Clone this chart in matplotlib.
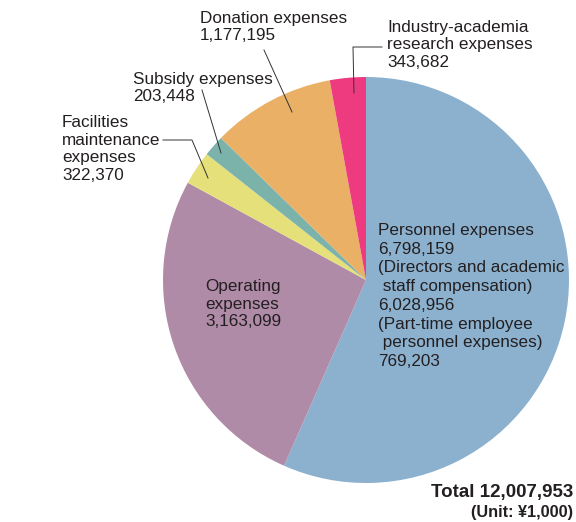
import matplotlib
matplotlib.use("Agg")
import matplotlib.pyplot as plt

plt.rcParams['font.family'] = ['Liberation Sans', 'DejaVu Sans']

categories = ["Personnel expenses", "Operating expenses", "Facilities maintenance expenses",
              "Subsidy expenses", "Donation expenses", "Industry-academia research expenses"]
values = [6798159, 3163099, 322370, 203448, 1177195, 343682]
colors = ["#8CB1CF", "#B08BA8", "#E5E07A", "#7BB3AA", "#E9B066", "#EE3B80"]

labels = {
    "personnel": "Personnel expenses\n6,798,159\n(Directors and academic\n staff compensation)\n6,028,956\n(Part-time employee\n personnel expenses)\n769,203",
    "operating": "Operating\nexpenses\n3,163,099",
    "facilities": "Facilities\nmaintenance\nexpenses\n322,370",
    "subsidy": "Subsidy expenses\n203,448",
    "donation": "Donation expenses\n1,177,195",
    "industry": "Industry-academia\nresearch expenses\n343,682",
}
total_text = "Total 12,007,953"
unit_text = "(Unit: ¥1,000)"

W, H = 576, 522
fig = plt.figure(figsize=(W / 100, H / 100), dpi=100)
ax = fig.add_axes([0, 0, 1, 1])

def Y(py):
    return H - py

ax.pie(values, colors=colors, startangle=90, counterclock=False,
       center=(366, Y(280)), radius=203, frame=True,
       wedgeprops=dict(linewidth=0))
ax.set_xlim(0, W)
ax.set_ylim(0, H)
ax.axis('off')

tc = "#231F20"
fs = 12.3
ls = 1.24

ax.text(378, Y(296), labels["personnel"], fontsize=fs, color=tc, va='center', ha='left', linespacing=1.31)
ax.text(205, Y(304), labels["operating"], fontsize=fs, color=tc, va='center', ha='left', linespacing=ls)
ax.text(62, Y(149), labels["facilities"], fontsize=fs, color=tc, va='center', ha='left', linespacing=ls)
ax.text(133, Y(88), labels["subsidy"], fontsize=fs, color=tc, va='center', ha='left', linespacing=ls)
ax.text(200, Y(27), labels["donation"], fontsize=fs, color=tc, va='center', ha='left', linespacing=ls)
ax.text(387, Y(45), labels["industry"], fontsize=fs, color=tc, va='center', ha='left', linespacing=ls)

lc = "#333333"
lw = 0.7
# leader lines
ax.plot([382, 353, 354], [Y(47), Y(47), Y(93)], color=lc, lw=lw)
ax.plot([264, 292], [Y(50), Y(112)], color=lc, lw=lw)
ax.plot([202, 221], [Y(90), Y(153)], color=lc, lw=lw)
ax.plot([163, 192, 208], [Y(140), Y(140), Y(178)], color=lc, lw=lw)

ax.text(573, Y(492), total_text, fontsize=13.5, fontweight='bold', color=tc, ha='right', va='center')
ax.text(573, Y(512), unit_text, fontsize=11.7, fontweight='bold', color=tc, ha='right', va='center')

fig.savefig("out.png", dpi=100)
